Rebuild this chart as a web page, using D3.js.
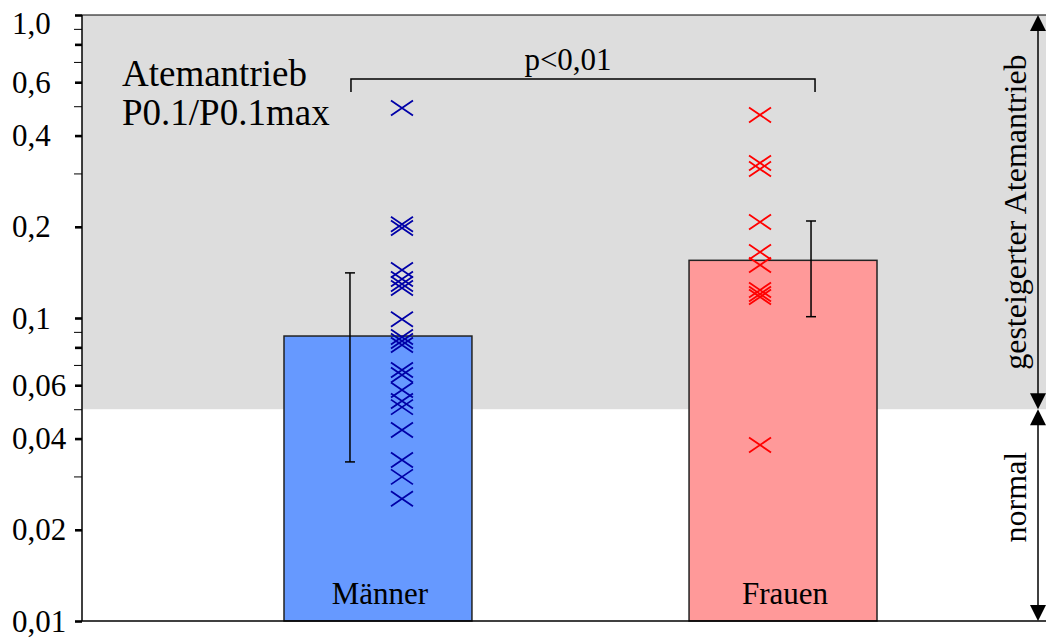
<!DOCTYPE html>
<html>
<head>
<meta charset="utf-8">
<script src="https://cdn.jsdelivr.net/npm/d3@7"></script>
<style>
  html, body { margin: 0; padding: 0; background: #fff; }
  svg { display: block; }
  text { font-family: "Liberation Serif", "Times New Roman", serif; fill: #000; }
</style>
</head>
<body>
<svg id="chart" width="1046" height="639"></svg>
<script>
// Atemantrieb P0.1/P0.1max, Männer vs. Frauen (log scale)
const categories = ["Männer", "Frauen"];
const barMeans = [0.0872, 0.155];
const barSD = [0.0537, 0.054];
const maennerPoints = [0.493, 0.204, 0.198, 0.144, 0.1345, 0.1295, 0.1256, 0.099,
  0.0866, 0.084, 0.0815, 0.0674, 0.0648, 0.0579, 0.0532, 0.0508, 0.0427, 0.034, 0.0299, 0.0253];
const frauenPoints = [0.468, 0.325, 0.31, 0.2074, 0.1651, 0.1496, 0.1237, 0.12, 0.1173, 0.0381];
const pointSets = [maennerPoints, frauenPoints];
const tickLabelValues = [1, 0.6, 0.4, 0.2, 0.1, 0.06, 0.04, 0.02, 0.01];
const majorTicks = [1, 0.8, 0.6, 0.4, 0.2, 0.1, 0.08, 0.06, 0.04, 0.02, 0.01];
const minorTicks = [0.9, 0.7, 0.5, 0.3, 0.09, 0.07, 0.05, 0.03];
const normalLimit = 0.05;
const barColors = ["#6699FF", "#FF9999"];
const markColors = ["#0000A8", "#FF0000"];

const svg = d3.select("#chart");
const W = 1046;
const plotLeft = 82, plotRight = W, plotTop = 15, plotBottom = 621;

const y = d3.scaleLog().domain([0.01, 1]).range([plotBottom, plotTop]);
const x = d3.scaleBand().domain(categories).range([284, 877]).paddingInner(0.536).paddingOuter(0);
const bw = x.bandwidth();
const cx = c => x(c) + bw / 2;
// markers sit on the inner side of each bar, error bars on the outer side
const side = i => (i === 0 ? 1 : -1);
const markX = i => cx(categories[i]) + side(i) * 24 + (i === 1 ? 1 : 0);
const errX = i => cx(categories[i]) - side(i) * 28;

// shaded zone: raised drive (above the normal limit)
svg.append("rect")
  .attr("x", plotLeft).attr("y", y(1))
  .attr("width", plotRight - plotLeft).attr("height", y(normalLimit) - y(1))
  .attr("fill", "#DDDDDD");

// bars
svg.selectAll("rect.bar").data(categories).join("rect")
  .attr("class", "bar")
  .attr("x", d => x(d)).attr("width", bw)
  .attr("y", (d, i) => y(barMeans[i]))
  .attr("height", (d, i) => plotBottom - y(barMeans[i]))
  .attr("fill", (d, i) => barColors[i])
  .attr("stroke", "#222").attr("stroke-width", 1.5);

// error bars (mean ± SD)
categories.forEach((c, i) => {
  const g = svg.append("g").attr("stroke", "#000").attr("stroke-width", 1.5);
  const hi = y(barMeans[i] + barSD[i]), lo = y(barMeans[i] - barSD[i]), xx = errX(i);
  g.append("line").attr("x1", xx).attr("x2", xx).attr("y1", hi).attr("y2", lo);
  g.append("line").attr("x1", xx - 5).attr("x2", xx + 5).attr("y1", hi).attr("y2", hi);
  g.append("line").attr("x1", xx - 5).attr("x2", xx + 5).attr("y1", lo).attr("y2", lo);
});

// individual values as crosses
const hw = 11, hh = 7.5;
categories.forEach((c, i) => {
  svg.append("g").selectAll("path").data(pointSets[i]).join("path")
    .attr("d", v => {
      const px = markX(i), py = y(v);
      return `M${px - hw},${py - hh}L${px + hw},${py + hh}M${px - hw},${py + hh}L${px + hw},${py - hh}`;
    })
    .attr("stroke", markColors[i]).attr("stroke-width", 1.8).attr("fill", "none");
});

// category labels inside the bars
svg.selectAll("text.cat").data(categories).join("text")
  .attr("class", "cat")
  .attr("x", d => cx(d) + 2).attr("y", plotBottom - 17)
  .attr("text-anchor", "middle").attr("font-size", 31)
  .text(d => d);

// frame: left axis, bottom axis, top border
svg.append("line").attr("x1", plotLeft).attr("x2", plotLeft).attr("y1", plotTop).attr("y2", plotBottom)
  .attr("stroke", "#000").attr("stroke-width", 1.5);
svg.append("line").attr("x1", plotLeft).attr("x2", plotRight).attr("y1", plotBottom).attr("y2", plotBottom)
  .attr("stroke", "#000").attr("stroke-width", 1.5);
svg.append("line").attr("x1", plotLeft).attr("x2", plotRight).attr("y1", plotTop).attr("y2", plotTop)
  .attr("stroke", "#000").attr("stroke-width", 1.2);

// y axis ticks
const axisMajor = d3.axisLeft(y).tickValues(majorTicks).tickSize(7).tickFormat("");
const gMaj = svg.append("g").attr("transform", `translate(${plotLeft},0)`).call(axisMajor);
gMaj.select(".domain").remove();
gMaj.selectAll(".tick line").attr("stroke", "#000").attr("stroke-width", 2.6);
const axisMinor = d3.axisLeft(y).tickValues(minorTicks).tickSize(8).tickFormat("");
const gMin = svg.append("g").attr("transform", `translate(${plotLeft},0)`).call(axisMinor);
gMin.select(".domain").remove();
gMin.selectAll(".tick line").attr("stroke", "#000").attr("stroke-width", 1);

// tick labels, decimal comma, left aligned
const fmt = v => (v === 1 ? "1,0" : String(v).replace(".", ","));
svg.append("g").selectAll("text").data(tickLabelValues).join("text")
  .attr("x", 12)
  .attr("y", v => Math.max(y(v), 23))
  .attr("dy", "0.34em")
  .attr("font-size", 31)
  .text(fmt);

// title
svg.append("text").attr("x", 122).attr("y", 86).attr("font-size", 37).text("Atemantrieb");
svg.append("text").attr("x", 122).attr("y", 125).attr("font-size", 37).text("P0.1/P0.1max");

// significance bracket
const bx1 = errX(0) + 1, bx2 = errX(1) + 4, by = 79;
svg.append("path")
  .attr("d", `M${bx1},${by + 13}V${by}H${bx2}V${by + 13}`)
  .attr("fill", "none").attr("stroke", "#000").attr("stroke-width", 1.5);
svg.append("text").attr("x", 568).attr("y", 70).attr("text-anchor", "middle")
  .attr("font-size", 31).text("p<0,01");

// range arrows on the right
const ax = 1038;
function rangeArrow(top, bottom) {
  const ah = 16, aw = 8;
  svg.append("line").attr("x1", ax).attr("x2", ax).attr("y1", top + ah - 2).attr("y2", bottom - ah + 2)
    .attr("stroke", "#000").attr("stroke-width", 1.5);
  svg.append("path").attr("d", `M${ax},${top}L${ax - aw},${top + ah}L${ax + aw},${top + ah}Z`).attr("fill", "#000");
  svg.append("path").attr("d", `M${ax},${bottom}L${ax - aw},${bottom - ah}L${ax + aw},${bottom - ah}Z`).attr("fill", "#000");
}
rangeArrow(y(1), y(normalLimit));
rangeArrow(y(normalLimit), y(0.01));

svg.append("text")
  .attr("transform", `translate(1026,${(y(1) + y(normalLimit)) / 2}) rotate(-90)`)
  .attr("text-anchor", "middle").attr("font-size", 32)
  .text("gesteigerter Atemantrieb");
svg.append("text")
  .attr("transform", `translate(1026,${(y(normalLimit) + y(0.01)) / 2 - 18}) rotate(-90)`)
  .attr("text-anchor", "middle").attr("font-size", 32)
  .text("normal");
</script>
</body>
</html>
